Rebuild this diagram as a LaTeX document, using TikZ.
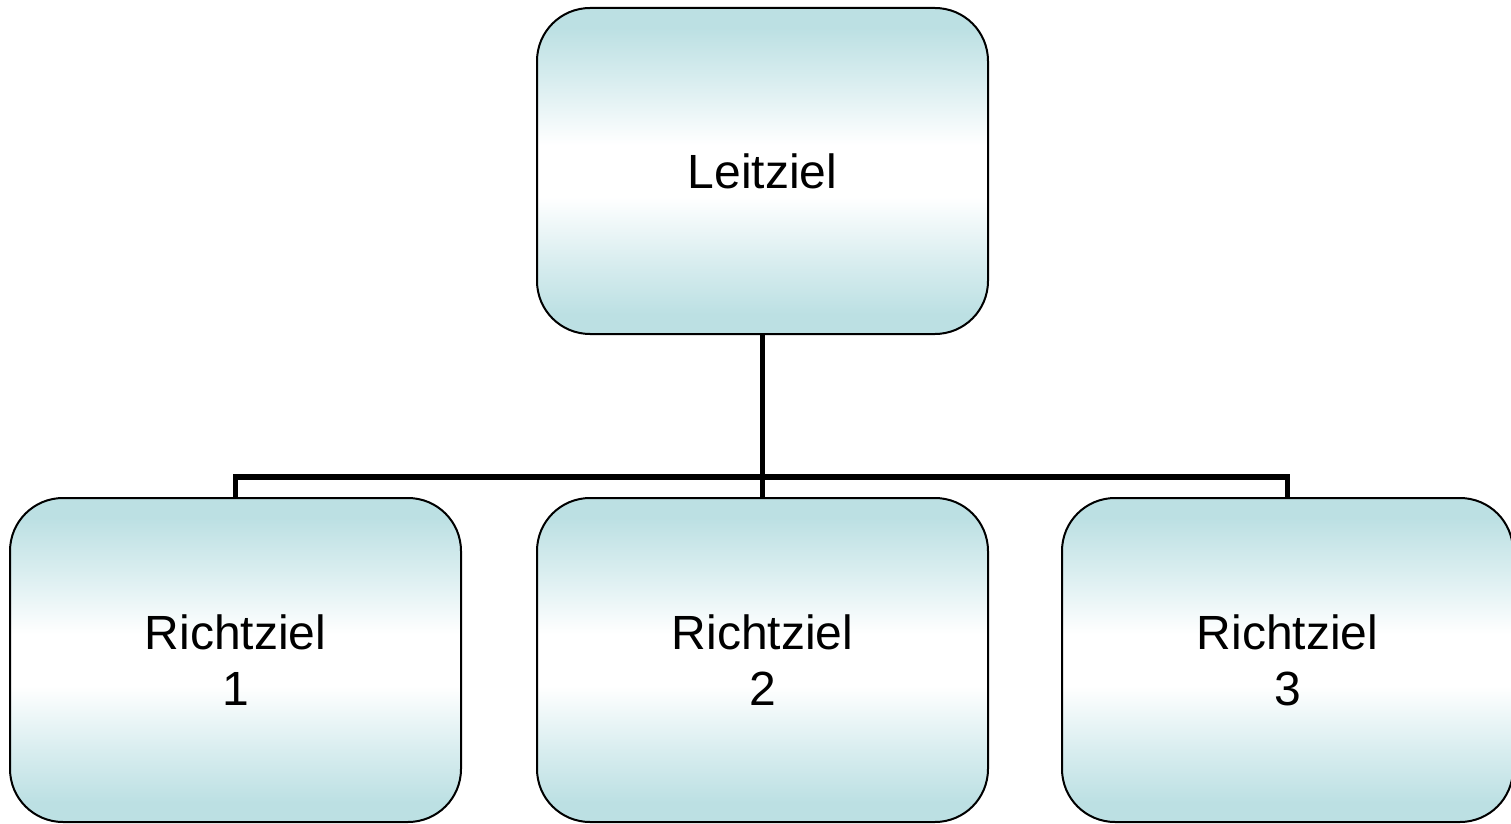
\documentclass[tikz,border=0pt]{standalone}
\usepackage{fontspec}
\setmainfont{Liberation Sans}
\definecolor{boxteal}{RGB}{188,224,227}
\definecolor{boxmid}{RGB}{216,237,239}
\pgfdeclareverticalshading{boxshade}{100bp}{%
  color(0bp)=(boxteal); color(28bp)=(boxteal); color(36bp)=(boxmid);
  color(46bp)=(white); color(54bp)=(white); color(64bp)=(boxmid);
  color(72bp)=(boxteal); color(100bp)=(boxteal)}
\tikzset{
  goalbox/.style={draw=black, line width=1pt, rounded corners=26.5pt,
    shading=boxshade, minimum width=225.5pt, inner sep=0pt,
    align=center, font=\fontsize{24}{28}\selectfont},
  conn/.style={draw=black, line width=2.7pt}
}
\begin{document}
\begin{tikzpicture}[x=0.5pt,y=-0.5pt]
\useasboundingbox (0,0) rectangle (1511,824);
\node[goalbox, minimum height=163pt] (top) at (762.5,171) {Leitziel};
\node[goalbox, minimum height=162pt] (r1) at (235.5,660) {Richtziel\\1};
\node[goalbox, minimum height=162pt] (r2) at (762.5,660) {Richtziel\\2};
\node[goalbox, minimum height=162pt] (r3) at (1287.5,660) {Richtziel\\3};
\coordinate (bus) at (0,477);
\draw[conn] (top.south) -- (r2.north);
\draw[conn] (r1.north) -- (r1.north |- bus) -- (r3.north |- bus) -- (r3.north);
\end{tikzpicture}
\end{document}
